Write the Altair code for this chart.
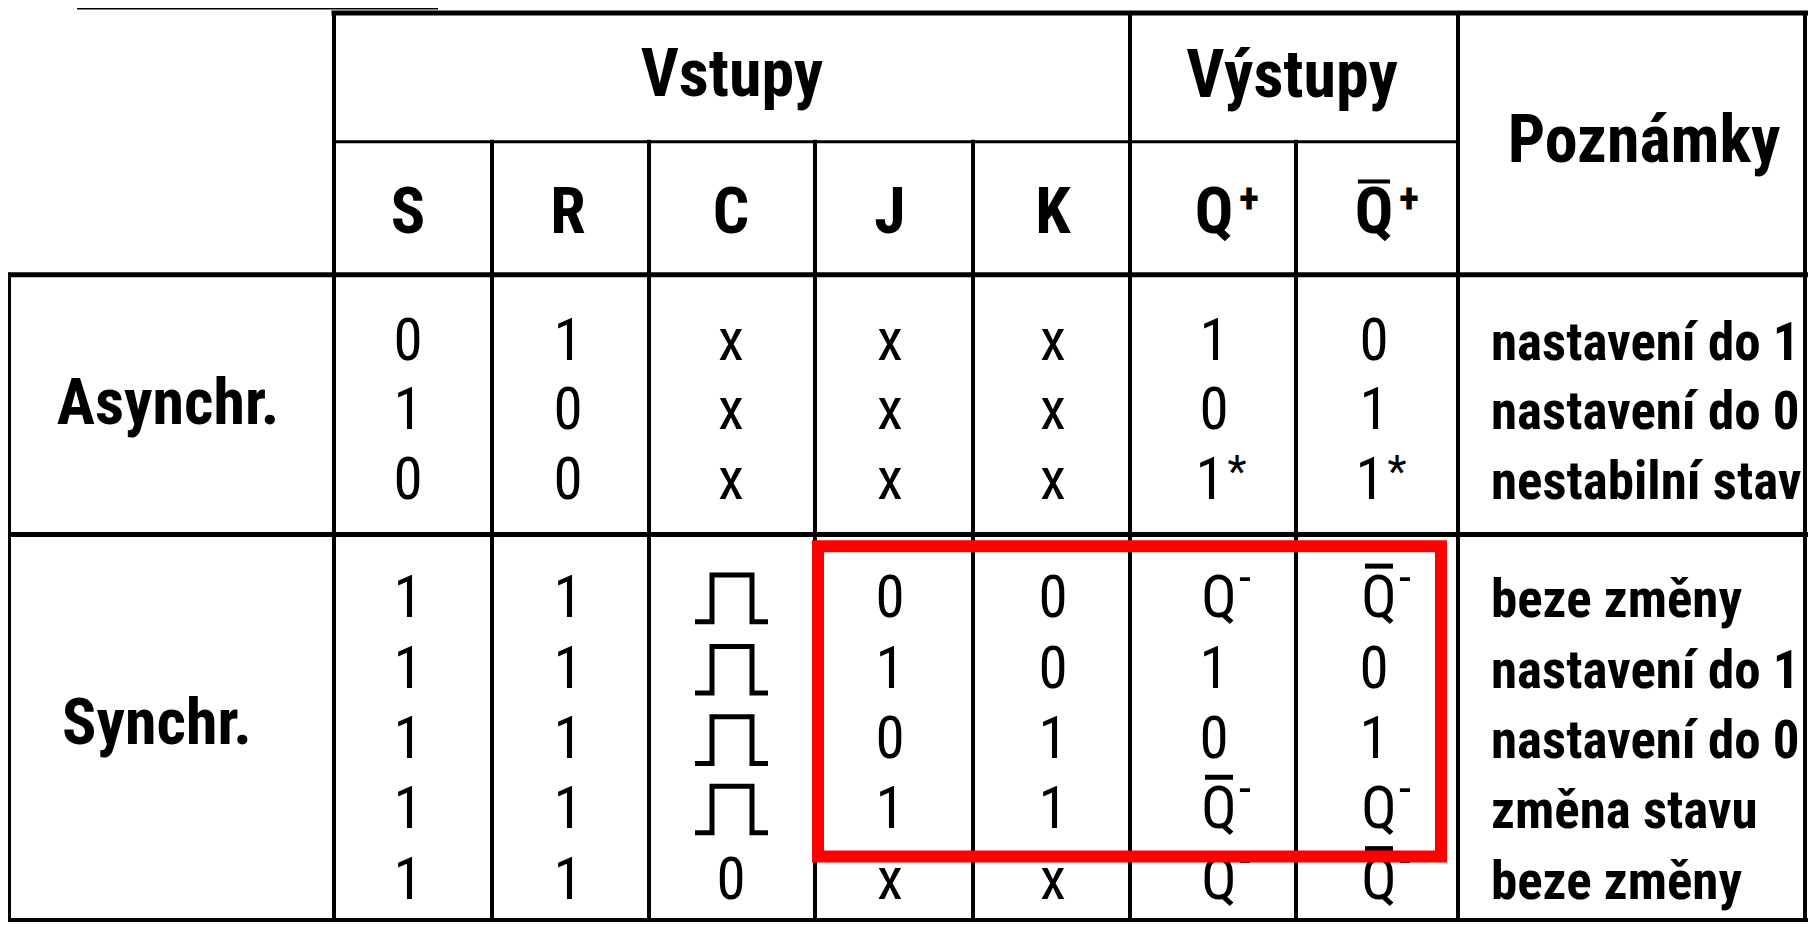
import altair as alt
import pandas as pd

# ---------------- content ----------------
group_names = ["Asynchr.", "Synchr."]
top_headers = ["Vstupy", "Výstupy", "Poznámky"]
col_names = ["S", "R", "C", "J", "K", "Q", "~Q"]
col_sups = ["", "", "", "", "", "+", "+"]
S_vals = ["0", "1", "0", "1", "1", "1", "1", "1"]
R_vals = ["1", "0", "0", "1", "1", "1", "1", "1"]
C_vals = ["x", "x", "x", "pulse", "pulse", "pulse", "pulse", "0"]
J_vals = ["x", "x", "x", "0", "1", "0", "1", "x"]
K_vals = ["x", "x", "x", "0", "0", "1", "1", "x"]
Q_vals = ["1", "0", "1*", "Q-", "1", "0", "~Q-", "Q-"]
Qn_vals = ["0", "1", "1*", "~Q-", "0", "1", "Q-", "~Q-"]
notes = ["nastavení do 1", "nastavení do 0", "nestabilní stav",
         "beze změny", "nastavení do 1", "nastavení do 0",
         "změna stavu", "beze změny"]

# ---------------- layout (reference pixel coordinates) ----------------
W, H = 1800, 914
X0, X1 = 8, 1808
Y0, Y1 = 8, 930
col_centers = [408, 568, 731, 890, 1053, 1214, 1374]
row_base = [363, 433, 503, 622, 694, 765, 835, 907]
group_pos = [(168, 428), (157, 750)]
top_pos = [(732, 97), (1292, 98), (1644, 163)]
head_base = 235
notes_x = 1491
red_box = (818, 1441, 551, 864)

FONT = "'Roboto Condensed', 'Liberation Sans', Arial, sans-serif"

xs = alt.Scale(domain=[X0, X1], nice=False, zero=False)
ys = alt.Scale(domain=[Y0, Y1], nice=False, zero=False, reverse=True)


def X(f):
    return alt.X(f, type="quantitative", scale=xs, axis=None)


def Y(f):
    return alt.Y(f, type="quantitative", scale=ys, axis=None)


# grid lines
lines = [
    (78, 437, 8.5, 8.5, 2),       # stray underline above the table
    (334, 1806, 13, 13, 5),       # top border
    (334, 1458, 143, 143, 3),     # under Vstupy / Výstupy
    (8, 1806, 277, 277, 5),       # header bottom
    (8, 1806, 539, 539, 5),       # Asynchr / Synchr split
    (8, 1806, 928, 928, 4),       # bottom border
    (9, 9, 277, 928, 4),          # left border
    (334, 334, 13, 928, 4),
    (492, 492, 143, 928, 4),
    (649, 649, 143, 928, 4),
    (815, 815, 143, 928, 4),
    (973, 973, 143, 928, 4),
    (1130, 1130, 13, 928, 4),
    (1296, 1296, 143, 928, 4),
    (1458, 1458, 13, 928, 4),
    (1805, 1805, 13, 928, 4),     # right border
]
lines_df = pd.DataFrame(lines, columns=["x1", "x2", "y1", "y2", "sw"])

bold_big, bold_mid, bold_sup, reg_main, reg_sup, note_rows = [], [], [], [], [], []
bars, pulse_pts = [], []

for (x, y), t in zip(top_pos, top_headers):
    bold_big.append(dict(x=x, y=y, t=t, fs=66))
for (x, y), t in zip(group_pos, group_names):
    bold_mid.append(dict(x=x, y=y, t=t, fs=64))
for c, name, sup in zip(col_centers, col_names, col_sups):
    bar = name.startswith("~")
    main = name.lstrip("~")
    bold_mid.append(dict(x=c, y=head_base, t=main, fs=64))
    if sup:
        bold_sup.append(dict(x=c + 35, y=head_base - 20, t=sup, fs=42))
    if bar:
        bars.append(dict(x1=c - 16, x2=c + 16, y=head_base - 52, sw=4))

columns = [S_vals, R_vals, C_vals, J_vals, K_vals, Q_vals, Qn_vals]
for c, vals in zip(col_centers, columns):
    for r, tok in enumerate(vals):
        b = row_base[r]
        if tok == "pulse":
            xs_p = [c - 36, c - 19, c - 19, c + 21, c + 21, c + 37]
            ys_p = [b + 5, b + 5, b - 42, b - 42, b + 5, b + 5]
            for k, (px, py) in enumerate(zip(xs_p, ys_p)):
                pulse_pts.append(dict(x=px, y=py, row=r, k=k))
            continue
        bar = tok.startswith("~")
        tok = tok.lstrip("~")
        main, sup = tok[0], tok[1:]
        if main == "Q":
            mx = c + 5
            reg_main.append(dict(x=mx, y=b, t=main, fs=59))
            if sup:
                reg_sup.append(dict(x=c + 31, y=b - 23, t=sup, fs=50))
            if bar:
                bars.append(dict(x1=mx - 14, x2=mx + 14, y=b - 51, sw=5))
        elif sup == "*":
            reg_main.append(dict(x=c - 4, y=b, t=main, fs=59))
            reg_sup.append(dict(x=c + 23, y=b - 12, t=sup, fs=44))
        else:
            reg_main.append(dict(x=c, y=b, t=main, fs=59))

for r, t in enumerate(notes):
    note_rows.append(dict(x=notes_x, y=row_base[r], t=t, fs=53))


def text_layer(rows, weight, align="center"):
    return alt.Chart(pd.DataFrame(rows)).mark_text(
        font=FONT, fontWeight=weight, align=align, baseline="alphabetic", color="black"
    ).encode(
        x=X("x"), y=Y("y"), text=alt.Text("t:N"), size=alt.Size("fs:Q", scale=None, legend=None)
    )


grid = alt.Chart(lines_df).mark_rule(color="black", strokeCap="square").encode(
    x=X("x1"), x2="x2", y=Y("y1"), y2="y2",
    strokeWidth=alt.StrokeWidth("sw:Q", scale=None, legend=None),
)

bar_layer = alt.Chart(pd.DataFrame(bars)).mark_rule(color="black").encode(
    x=X("x1"), x2="x2", y=Y("y"),
    strokeWidth=alt.StrokeWidth("sw:Q", scale=None, legend=None),
)

pulse_layer = alt.Chart(pd.DataFrame(pulse_pts)).mark_line(
    color="black", strokeWidth=5, strokeJoin="miter"
).encode(x=X("x"), y=Y("y"), detail="row:N", order="k:Q")

rb = pd.DataFrame([dict(x1=red_box[0], x2=red_box[1], y1=red_box[2], y2=red_box[3])])
red_layer = alt.Chart(rb).mark_rect(
    fillOpacity=0, stroke="#ff0000", strokeWidth=12, strokeJoin="miter"
).encode(x=X("x1"), x2="x2", y=Y("y1"), y2="y2")

chart = alt.layer(
    grid,
    text_layer(bold_big, "bold"),
    text_layer(bold_mid, "bold"),
    text_layer(bold_sup, "bold"),
    text_layer(reg_main, "normal"),
    text_layer(reg_sup, "normal"),
    text_layer(note_rows, "bold", align="left"),
    bar_layer,
    pulse_layer,
    red_layer,
).properties(
    width=W, height=H, padding=0, autosize=alt.AutoSizeParams(type="none"),
    background="white",
).configure_view(stroke=None)

chart.save("out.html", embed_options={"renderer": "svg", "actions": False})
